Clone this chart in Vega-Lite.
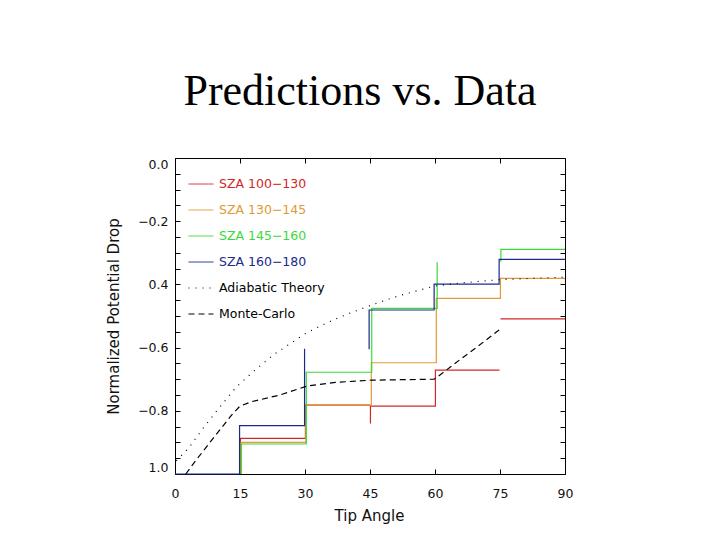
{
  "$schema": "https://vega.github.io/schema/vega-lite/v6.json",
  "width": 390,
  "height": 316,
  "autosize": {"type": "none"},
  "padding": {"left": 175, "top": 158, "right": 155, "bottom": 66},
  "background": "white",
  "title": {"text": "Predictions vs. Data", "font": "Liberation Serif", "fontSize": 44, "fontWeight": "normal", "color": "black", "anchor": "middle", "frame": "group", "baseline": "alphabetic", "offset": 9, "dx": -10},
  "config": {
    "view": {"stroke": null},
    "axis": {"grid": false, "domainColor": "black", "tickColor": "black", "domainWidth": 1, "tickWidth": 1, "labelFont": "DejaVu Sans", "labelFontSize": 12.5, "labelColor": "#111", "titleFont": "DejaVu Sans", "titleFontSize": 15, "titleFontWeight": "normal", "titleColor": "#111"},
    "legend": {"orient": "none", "legendX": 13, "legendY": 13, "direction": "vertical", "symbolType": "stroke", "symbolSize": 625, "symbolStrokeWidth": 1, "labelFont": "DejaVu Sans", "labelFontSize": 12.5, "labelOffset": 5, "rowPadding": 6, "padding": 0, "labelLimit": 300}
  },
  "data": {"values": [
    {"s": "SZA 100−130", "g": "r1", "i": 1, "x": 15.1, "y": -1.0},
    {"s": "SZA 100−130", "g": "r1", "i": 2, "x": 15.1, "y": -0.887},
    {"s": "SZA 100−130", "g": "r1", "i": 3, "x": 30.1, "y": -0.887},
    {"s": "SZA 100−130", "g": "r1", "i": 4, "x": 30.1, "y": -0.782},
    {"s": "SZA 100−130", "g": "r1", "i": 5, "x": 45.1, "y": -0.782},
    {"s": "SZA 100−130", "g": "r2", "i": 6, "x": 45.1, "y": -0.84},
    {"s": "SZA 100−130", "g": "r2", "i": 7, "x": 45.1, "y": -0.785},
    {"s": "SZA 100−130", "g": "r2", "i": 8, "x": 60.1, "y": -0.785},
    {"s": "SZA 100−130", "g": "r2", "i": 9, "x": 60.1, "y": -0.671},
    {"s": "SZA 100−130", "g": "r2", "i": 10, "x": 74.9, "y": -0.671},
    {"s": "SZA 100−130", "g": "r3", "i": 11, "x": 75.1, "y": -0.509},
    {"s": "SZA 100−130", "g": "r3", "i": 12, "x": 90, "y": -0.509},
    {"s": "SZA 130−145", "g": "o1", "i": 1, "x": 15.2, "y": -1.0},
    {"s": "SZA 130−145", "g": "o1", "i": 2, "x": 15.2, "y": -0.9},
    {"s": "SZA 130−145", "g": "o1", "i": 3, "x": 30.2, "y": -0.9},
    {"s": "SZA 130−145", "g": "o1", "i": 4, "x": 30.2, "y": -0.782},
    {"s": "SZA 130−145", "g": "o1", "i": 5, "x": 45.3, "y": -0.782},
    {"s": "SZA 130−145", "g": "o1", "i": 6, "x": 45.3, "y": -0.648},
    {"s": "SZA 130−145", "g": "o1", "i": 7, "x": 60.3, "y": -0.648},
    {"s": "SZA 130−145", "g": "o1", "i": 8, "x": 60.3, "y": -0.444},
    {"s": "SZA 130−145", "g": "o1", "i": 9, "x": 75.1, "y": -0.444},
    {"s": "SZA 130−145", "g": "o1", "i": 10, "x": 75.1, "y": -0.381},
    {"s": "SZA 130−145", "g": "o1", "i": 11, "x": 90, "y": -0.381},
    {"s": "SZA 145−160", "g": "g1", "i": 1, "x": 15.3, "y": -1.0},
    {"s": "SZA 145−160", "g": "g1", "i": 2, "x": 15.3, "y": -0.905},
    {"s": "SZA 145−160", "g": "g1", "i": 3, "x": 30.3, "y": -0.905},
    {"s": "SZA 145−160", "g": "g1", "i": 4, "x": 30.3, "y": -0.678},
    {"s": "SZA 145−160", "g": "g1", "i": 5, "x": 45.4, "y": -0.678},
    {"s": "SZA 145−160", "g": "g1", "i": 6, "x": 45.4, "y": -0.476},
    {"s": "SZA 145−160", "g": "g1", "i": 7, "x": 60.5, "y": -0.476},
    {"s": "SZA 145−160", "g": "g1", "i": 8, "x": 60.5, "y": -0.33},
    {"s": "SZA 145−160", "g": "g2", "i": 9, "x": 75.2, "y": -0.328},
    {"s": "SZA 145−160", "g": "g2", "i": 10, "x": 75.2, "y": -0.289},
    {"s": "SZA 145−160", "g": "g2", "i": 11, "x": 90, "y": -0.289},
    {"s": "SZA 160−180", "g": "b1", "i": 1, "x": 0, "y": -1.0},
    {"s": "SZA 160−180", "g": "b1", "i": 2, "x": 14.9, "y": -1.0},
    {"s": "SZA 160−180", "g": "b1", "i": 3, "x": 14.9, "y": -0.847},
    {"s": "SZA 160−180", "g": "b1", "i": 4, "x": 29.9, "y": -0.847},
    {"s": "SZA 160−180", "g": "b1", "i": 5, "x": 29.9, "y": -0.604},
    {"s": "SZA 160−180", "g": "b2", "i": 6, "x": 44.8, "y": -0.605},
    {"s": "SZA 160−180", "g": "b2", "i": 7, "x": 44.8, "y": -0.481},
    {"s": "SZA 160−180", "g": "b2", "i": 8, "x": 59.8, "y": -0.481},
    {"s": "SZA 160−180", "g": "b2", "i": 9, "x": 59.8, "y": -0.399},
    {"s": "SZA 160−180", "g": "b2", "i": 10, "x": 74.8, "y": -0.399},
    {"s": "SZA 160−180", "g": "b2", "i": 11, "x": 74.8, "y": -0.321},
    {"s": "SZA 160−180", "g": "b2", "i": 12, "x": 90, "y": -0.321},
    {"s": "Adiabatic Theory", "g": "a", "i": 1, "x": 0.3, "y": -0.958},
    {"s": "Adiabatic Theory", "g": "a", "i": 2, "x": 3.1, "y": -0.919},
    {"s": "Adiabatic Theory", "g": "a", "i": 3, "x": 6.5, "y": -0.855},
    {"s": "Adiabatic Theory", "g": "a", "i": 4, "x": 10.4, "y": -0.787},
    {"s": "Adiabatic Theory", "g": "a", "i": 5, "x": 14.2, "y": -0.724},
    {"s": "Adiabatic Theory", "g": "a", "i": 6, "x": 18.9, "y": -0.666},
    {"s": "Adiabatic Theory", "g": "a", "i": 7, "x": 22.7, "y": -0.623},
    {"s": "Adiabatic Theory", "g": "a", "i": 8, "x": 27.3, "y": -0.581},
    {"s": "Adiabatic Theory", "g": "a", "i": 9, "x": 30.4, "y": -0.553},
    {"s": "Adiabatic Theory", "g": "a", "i": 10, "x": 35, "y": -0.522},
    {"s": "Adiabatic Theory", "g": "a", "i": 11, "x": 39.2, "y": -0.497},
    {"s": "Adiabatic Theory", "g": "a", "i": 12, "x": 45.4, "y": -0.465},
    {"s": "Adiabatic Theory", "g": "a", "i": 13, "x": 50, "y": -0.443},
    {"s": "Adiabatic Theory", "g": "a", "i": 14, "x": 55, "y": -0.423},
    {"s": "Adiabatic Theory", "g": "a", "i": 15, "x": 60, "y": -0.405},
    {"s": "Adiabatic Theory", "g": "a", "i": 16, "x": 67, "y": -0.394},
    {"s": "Adiabatic Theory", "g": "a", "i": 17, "x": 75, "y": -0.385},
    {"s": "Adiabatic Theory", "g": "a", "i": 18, "x": 82, "y": -0.381},
    {"s": "Adiabatic Theory", "g": "a", "i": 19, "x": 90, "y": -0.377},
    {"s": "Monte-Carlo", "g": "m", "i": 1, "x": 2.5, "y": -1.0},
    {"s": "Monte-Carlo", "g": "m", "i": 2, "x": 4.6, "y": -0.961},
    {"s": "Monte-Carlo", "g": "m", "i": 3, "x": 8.8, "y": -0.887},
    {"s": "Monte-Carlo", "g": "m", "i": 4, "x": 13.1, "y": -0.813},
    {"s": "Monte-Carlo", "g": "m", "i": 5, "x": 15, "y": -0.785},
    {"s": "Monte-Carlo", "g": "m", "i": 6, "x": 17.7, "y": -0.771},
    {"s": "Monte-Carlo", "g": "m", "i": 7, "x": 24.2, "y": -0.75},
    {"s": "Monte-Carlo", "g": "m", "i": 8, "x": 30.4, "y": -0.722},
    {"s": "Monte-Carlo", "g": "m", "i": 9, "x": 37, "y": -0.71},
    {"s": "Monte-Carlo", "g": "m", "i": 10, "x": 45.4, "y": -0.703},
    {"s": "Monte-Carlo", "g": "m", "i": 11, "x": 59.8, "y": -0.7},
    {"s": "Monte-Carlo", "g": "m", "i": 12, "x": 61.9, "y": -0.679},
    {"s": "Monte-Carlo", "g": "m", "i": 13, "x": 64.6, "y": -0.65},
    {"s": "Monte-Carlo", "g": "m", "i": 14, "x": 70, "y": -0.595},
    {"s": "Monte-Carlo", "g": "m", "i": 15, "x": 74.8, "y": -0.544}
  ]},
  "layer": [
    {
      "transform": [{"filter": "datum.s != 'Adiabatic Theory' && datum.s != 'Monte-Carlo'"}],
      "mark": {"type": "line", "strokeWidth": 1.2},
      "encoding": {
        "x": {"field": "x", "type": "quantitative", "scale": {"domain": [0, 90], "nice": false, "zero": false},
          "axis": {"orient": "bottom", "values": [0, 15, 30, 45, 60, 75, 90], "format": "d", "tickSize": -5, "labelPadding": 18, "labelFlush": false, "labelOverlap": false, "title": "Tip Angle", "titleX": 194, "titleY": 46, "titleBaseline": "alphabetic", "titleAlign": "center", "titleAnchor": null}},
        "y": {"field": "y", "type": "quantitative", "scale": {"domain": [-1, 0], "nice": false, "zero": false},
          "axis": {"orient": "left", "values": [-1, -0.95, -0.9, -0.85, -0.8, -0.75, -0.7, -0.65, -0.6, -0.55, -0.5, -0.45, -0.4, -0.35, -0.3, -0.25, -0.2, -0.15, -0.1, -0.05, 0], "tickSize": -5, "labelPadding": 12, "labelFlush": true, "labelOverlap": false,
            "labelExpr": "datum.value == 0 ? '0.0' : datum.value == -0.2 ? '−0.2' : datum.value == -0.4 ? '0.4' : datum.value == -0.6 ? '−0.6' : datum.value == -0.8 ? '−0.8' : datum.value == -1 ? '1.0' : ''",
            "title": "Normalized Potential Drop", "titleX": -62, "titleY": 158, "titleAngle": -90, "titleBaseline": "middle", "titleAlign": "center"}},
        "color": {"field": "s", "type": "nominal", "title": null,
          "scale": {"domain": ["SZA 100−130", "SZA 130−145", "SZA 145−160", "SZA 160−180", "Adiabatic Theory", "Monte-Carlo"], "range": ["#d02828", "#e09a35", "#3ad93a", "#1a2a8a", "black", "black"]},
          "legend": {"labelColor": {"signal": "scale('color', datum.value)"}, "encode": {"labels": {"update": {"fill": {"scale": "color", "field": "value"}}}}}},
        "strokeDash": {"field": "s", "type": "nominal", "title": null,
          "scale": {"domain": ["SZA 100−130", "SZA 130−145", "SZA 145−160", "SZA 160−180", "Adiabatic Theory", "Monte-Carlo"], "range": [[1, 0], [1, 0], [1, 0], [1, 0], [1, 6], [6, 4]]},
          "legend": {"labelColor": {"signal": "scale('color', datum.value)"}, "encode": {"labels": {"update": {"fill": {"scale": "color", "field": "value"}}}}}},
        "detail": {"field": "g"},
        "order": {"field": "i"}
      }
    },
    {
      "transform": [{"filter": "datum.s == 'Adiabatic Theory' || datum.s == 'Monte-Carlo'"}],
      "mark": {"type": "line", "strokeWidth": 1.2},
      "encoding": {
        "x": {"field": "x", "type": "quantitative",
          "axis": {"orient": "top", "values": [0, 15, 30, 45, 60, 75, 90], "tickSize": -5, "labels": false, "title": null}},
        "y": {"field": "y", "type": "quantitative",
          "axis": {"orient": "right", "values": [-1, -0.95, -0.9, -0.85, -0.8, -0.75, -0.7, -0.65, -0.6, -0.55, -0.5, -0.45, -0.4, -0.35, -0.3, -0.25, -0.2, -0.15, -0.1, -0.05, 0], "tickSize": -5, "labels": false, "title": null}},
        "color": {"field": "s", "type": "nominal", "title": null,
          "legend": {"labelColor": {"signal": "scale('color', datum.value)"}, "encode": {"labels": {"update": {"fill": {"scale": "color", "field": "value"}}}}}},
        "strokeDash": {"field": "s", "type": "nominal", "title": null,
          "legend": {"labelColor": {"signal": "scale('color', datum.value)"}, "encode": {"labels": {"update": {"fill": {"scale": "color", "field": "value"}}}}}},
        "detail": {"field": "g"},
        "order": {"field": "i"}
      }
    }
  ]
}
